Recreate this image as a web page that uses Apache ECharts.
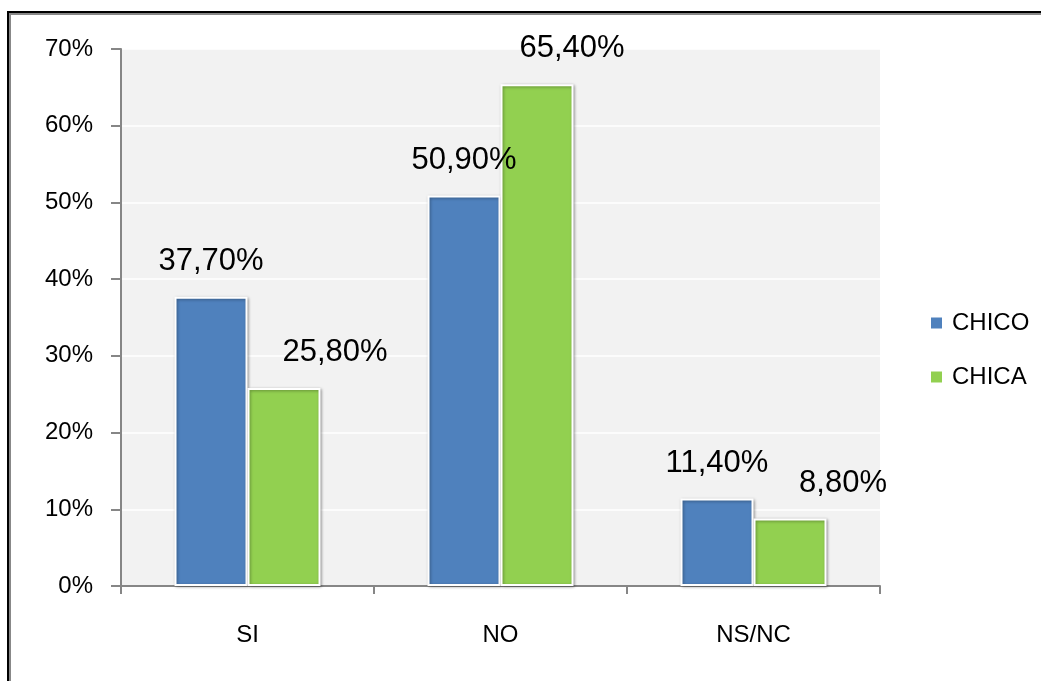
<!DOCTYPE html>
<html><head><meta charset="utf-8">
<script src="https://cdn.jsdelivr.net/npm/echarts@6/dist/echarts.min.js"></script>
<style>html,body{margin:0;padding:0;background:#fff}#c{width:1041px;height:681px}</style>
</head><body><div id="c"></div>
<script>
const categories = ['SI', 'NO', 'NS/NC'];
const chico = [37.7, 50.9, 11.4];
const chica = [25.8, 65.4, 8.8];
const seriesNames = ['CHICO', 'CHICA'];
const yTicks = { min: 0, max: 70, interval: 10 };

// label layout (style only)
const chicaLabelDx = [51, 35, 53];
const FONT = 'Liberation Sans';

const fmt = v => v.toFixed(2).replace('.', ',') + '%';

const chart = echarts.init(document.getElementById('c'), null, { renderer: 'canvas' });
const barStyle = (color) => ({
  color: color, borderColor: '#ffffff', borderWidth: 2,
  shadowColor: 'rgba(0,0,0,0.35)', shadowBlur: 3, shadowOffsetX: 1, shadowOffsetY: 1
});
chart.setOption({
  animation: false,
  backgroundColor: '#ffffff',
  textStyle: { fontFamily: FONT },
  grid: { left: 121, right: 161, top: 49, bottom: 95, show: true, backgroundColor: '#f2f2f2', borderWidth: 0 },
  legend: {
    orient: 'vertical', left: 929, top: 311, padding: 0, itemWidth: 13, itemHeight: 13, itemGap: 30,
    icon: 'rect',
    textStyle: { fontFamily: FONT, fontSize: 24, color: '#000', padding: [0, 0, 0, 4] },
    data: seriesNames
  },
  xAxis: {
    type: 'category', data: categories,
    axisLine: { lineStyle: { color: '#868686', width: 2 } },
    axisTick: { show: true, length: 8, lineStyle: { color: '#868686', width: 2 } },
    axisLabel: { fontFamily: FONT, fontSize: 24, color: '#000', margin: 37 },
    splitLine: { show: false }
  },
  yAxis: {
    type: 'value', min: yTicks.min, max: yTicks.max, interval: yTicks.interval,
    axisLine: { show: true, lineStyle: { color: '#868686', width: 2 } },
    axisTick: { show: true, length: 10, lineStyle: { color: '#868686', width: 2 } },
    axisLabel: { fontFamily: FONT, fontSize: 24, color: '#000', margin: 28, formatter: '{value}%' },
    splitLine: { show: true, lineStyle: { color: '#ffffff', width: 1.5 } }
  },
  series: [
    {
      name: seriesNames[0], type: 'bar', data: chico, barWidth: 73, barGap: '0%',
      itemStyle: barStyle('#4f81bd'),
      label: { show: true, position: 'top', distance: 20, fontFamily: FONT, fontSize: 31, color: '#000',
               formatter: p => fmt(p.value) }
    },
    {
      name: seriesNames[1], type: 'bar', barWidth: 73,
      data: chica.map((v, i) => ({ value: v, label: { offset: [chicaLabelDx[i], 0] } })),
      itemStyle: barStyle('#92d050'),
      label: { show: true, position: 'top', distance: 20, fontFamily: FONT, fontSize: 31, color: '#000',
               formatter: p => fmt(p.value) }
    }
  ],
  graphic: [
    { type: 'rect', shape: { x: 7, y: 11, width: 1034, height: 2 }, style: { fill: '#000' }, silent: true },
    { type: 'rect', shape: { x: 9, y: 13, width: 1032, height: 2 }, style: { fill: '#888' }, silent: true },
    { type: 'rect', shape: { x: 7, y: 11, width: 2, height: 670 }, style: { fill: '#000' }, silent: true },
    { type: 'rect', shape: { x: 9, y: 13, width: 2, height: 668 }, style: { fill: '#888' }, silent: true }
  ]
});
</script></body></html>
